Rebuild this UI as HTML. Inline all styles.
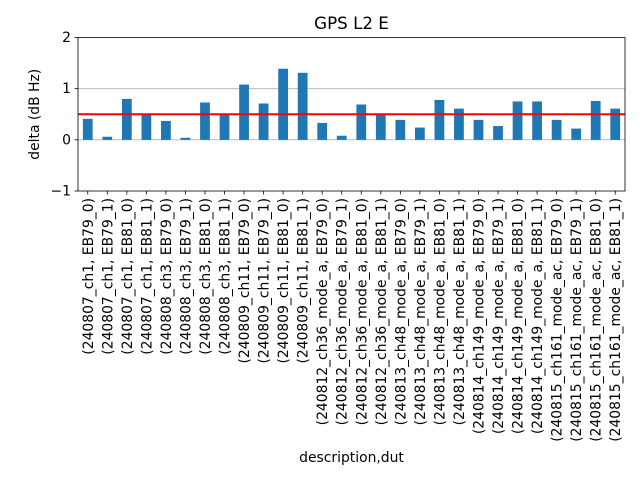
<!DOCTYPE html>
<html><head><meta charset="utf-8"><style>
body{margin:0;background:#fff}
svg text{font-family:"DejaVu Sans","Liberation Sans",sans-serif;fill:#000}
</style></head><body>
<svg id="c" width="640" height="480" xmlns="http://www.w3.org/2000/svg"></svg>
<script>
const categories=["(240807_ch1, EB79_0)","(240807_ch1, EB79_1)","(240807_ch1, EB81_0)","(240807_ch1, EB81_1)","(240808_ch3, EB79_0)","(240808_ch3, EB79_1)","(240808_ch3, EB81_0)","(240808_ch3, EB81_1)","(240809_ch11, EB79_0)","(240809_ch11, EB79_1)","(240809_ch11, EB81_0)","(240809_ch11, EB81_1)","(240812_ch36_mode_a, EB79_0)","(240812_ch36_mode_a, EB79_1)","(240812_ch36_mode_a, EB81_0)","(240812_ch36_mode_a, EB81_1)","(240813_ch48_mode_a, EB79_0)","(240813_ch48_mode_a, EB79_1)","(240813_ch48_mode_a, EB81_0)","(240813_ch48_mode_a, EB81_1)","(240814_ch149_mode_a, EB79_0)","(240814_ch149_mode_a, EB79_1)","(240814_ch149_mode_a, EB81_0)","(240814_ch149_mode_a, EB81_1)","(240815_ch161_mode_ac, EB79_0)","(240815_ch161_mode_ac, EB79_1)","(240815_ch161_mode_ac, EB81_0)","(240815_ch161_mode_ac, EB81_1)"];
const values=[0.41,0.06,0.80,0.49,0.37,0.04,0.73,0.49,1.08,0.71,1.39,1.31,0.33,0.08,0.69,0.49,0.39,0.24,0.78,0.61,0.39,0.27,0.75,0.75,0.39,0.22,0.76,0.61];
const yTicks=[-1,0,1,2];
const threshold=0.5;
const S="http://www.w3.org/2000/svg",svg=document.getElementById('c');
const L=78,R=625,T=37.5,B=191,ymin=-1,ymax=2;
const n=categories.length,step=(R-L)/n;
const X=i=>L+(i+0.5)*step, Y=v=>B-(v-ymin)/(ymax-ymin)*(B-T);
function mk(t,a,p){const e=document.createElementNS(S,t);for(const k in a)e.setAttribute(k,a[k]);(p||svg).appendChild(e);return e;}
[0,1].forEach(v=>{const g=mk('line',{x1:L,x2:R,y1:Y(v),y2:Y(v),stroke:'#b0b0b0','stroke-width':0.8});

});
values.forEach((v,i)=>{const w=step*0.5;const r=mk('rect',{x:X(i)-w/2,y:Math.min(Y(v),Y(0)),width:w,height:Math.abs(Y(v)-Y(0)),fill:'#1f77b4'});

});
const th=mk('line',{x1:L,x2:R,y1:Y(threshold),y2:Y(threshold),stroke:'#ff0000','stroke-width':2});


const fr=mk('rect',{x:L,y:T,width:R-L,height:B-T,fill:'none',stroke:'#000','stroke-width':0.8});


yTicks.forEach(v=>{mk('line',{x1:L-3.5,x2:L,y1:Y(v),y2:Y(v),stroke:'#000','stroke-width':0.8});
const t=mk('text',{x:L-7,y:Y(v)+4.5,'text-anchor':'end','font-size':13.9});t.textContent=v<0?'\u2212'+(-v):v;

});
categories.forEach((c,i)=>{mk('line',{x1:X(i),x2:X(i),y1:B,y2:B+3.5,stroke:'#000','stroke-width':0.8});
const t=mk('text',{transform:`translate(${X(i)+5},${B+7}) rotate(-90)`,'text-anchor':'end','font-size':13.9});t.textContent=c;

});
const ti=mk('text',{x:(L+R)/2,y:29,'text-anchor':'middle','font-size':16.7});ti.textContent='GPS L2 E';


const xl=mk('text',{x:(L+R)/2,y:462,'text-anchor':'middle','font-size':13.9});xl.textContent='description,dut';


const yl=mk('text',{transform:`translate(39,${(T+B)/2}) rotate(-90)`,'text-anchor':'middle','font-size':13.9});yl.textContent='delta (dB Hz)';


</script>
</body></html>
